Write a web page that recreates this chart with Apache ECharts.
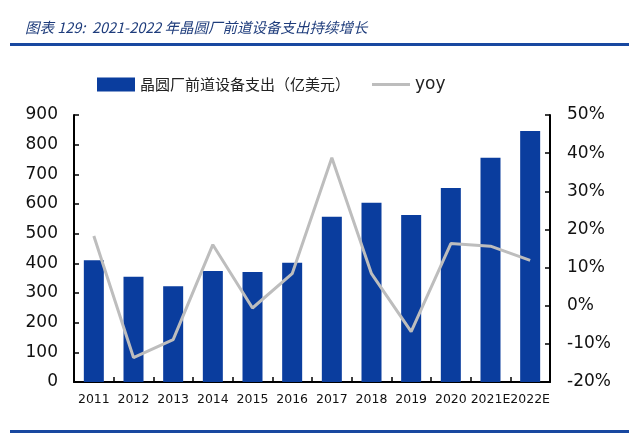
<!DOCTYPE html>
<html><head><meta charset="utf-8">
<script src="https://cdn.jsdelivr.net/npm/echarts@6/dist/echarts.min.js"></script>
<style>html,body{margin:0;padding:0;background:#fff}#c{width:640px;height:437px}</style>
</head><body><div id="c"></div>
<script>
const categories = ['2011','2012','2013','2014','2015','2016','2017','2018','2019','2020','2021E','2022E'];
const spending = [410, 355, 323, 374, 371, 402, 557, 604, 563, 654, 756, 846];
const yoy = [18.3, -13.6, -8.9, 16.0, -0.6, 8.4, 38.8, 8.4, -6.8, 16.3, 15.6, 11.9];
const leftTicks = [0, 900, 100];
const rightTicks = [-20, 50, 10];
const titleText = '图表 129:  2021-2022 年晶圆厂前道设备支出持续增长';
const barName = '晶圆厂前道设备支出（亿美元）';
const lineName = 'yoy';

const chart = echarts.init(document.getElementById('c'));
const cjk = '"Noto Sans CJK SC", sans-serif';
const num = '"DejaVu Sans", sans-serif';
chart.setOption({
  animation: false,
  backgroundColor: '#fff',
  title: {
    text: titleText, left: 20, top: 15,
    textStyle: {fontFamily: cjk, fontStyle: 'italic', fontWeight: 'normal', fontSize: 14.5, color: '#1F3D7C'}
  },
  graphic: [
    {type: 'rect', shape: {x: 10, y: 43, width: 619, height: 3}, style: {fill: '#1848A0'}},
    {type: 'rect', shape: {x: 10, y: 430, width: 619, height: 3}, style: {fill: '#1848A0'}}
  ],
  legend: {
    top: 71, left: 92, itemGap: 22, itemWidth: 38, itemHeight: 14,
    textStyle: {fontFamily: cjk, fontSize: 15, color: '#222'},
    data: [
      {name: barName, icon: 'rect'},
      {name: lineName, icon: 'path://M0,0 H38 V3 H0 Z', itemStyle: {color: '#BDBDBD'}, textStyle: {fontFamily: num, fontSize: 17}}
    ]
  },
  grid: {left: 74, right: 90, top: 115, bottom: 55},
  xAxis: {
    type: 'category', data: categories,
    axisLine: {lineStyle: {color: '#000', width: 2}},
    axisTick: {show: true, inside: true, length: 5, lineStyle: {color: '#000', width: 1.5}},
    axisLabel: {fontFamily: num, fontSize: 12.5, color: '#111', margin: 11, interval: 0}
  },
  yAxis: [
    {
      type: 'value', min: leftTicks[0], max: leftTicks[1], interval: leftTicks[2],
      axisLine: {show: true, lineStyle: {color: '#000', width: 2}},
      axisTick: {show: true, inside: true, length: 5, lineStyle: {color: '#000', width: 1.5}},
      splitLine: {show: false},
      axisLabel: {fontFamily: num, fontSize: 17, color: '#111', margin: 16}
    },
    {
      type: 'value', min: rightTicks[0], max: rightTicks[1], interval: rightTicks[2],
      axisLine: {show: true, lineStyle: {color: '#000', width: 2}},
      axisTick: {show: true, inside: true, length: 5, lineStyle: {color: '#000', width: 1.5}},
      splitLine: {show: false},
      axisLabel: {fontFamily: num, fontSize: 17, color: '#111', margin: 17, formatter: '{value}%'}
    }
  ],
  series: [
    {name: barName, type: 'bar', data: spending, barWidth: 20, itemStyle: {color: '#0A3D9E'}},
    {name: lineName, type: 'line', yAxisIndex: 1, data: yoy, symbol: 'none',
     lineStyle: {color: '#BDBDBD', width: 3}, itemStyle: {color: '#BDBDBD'}}
  ]
});
</script></body></html>
